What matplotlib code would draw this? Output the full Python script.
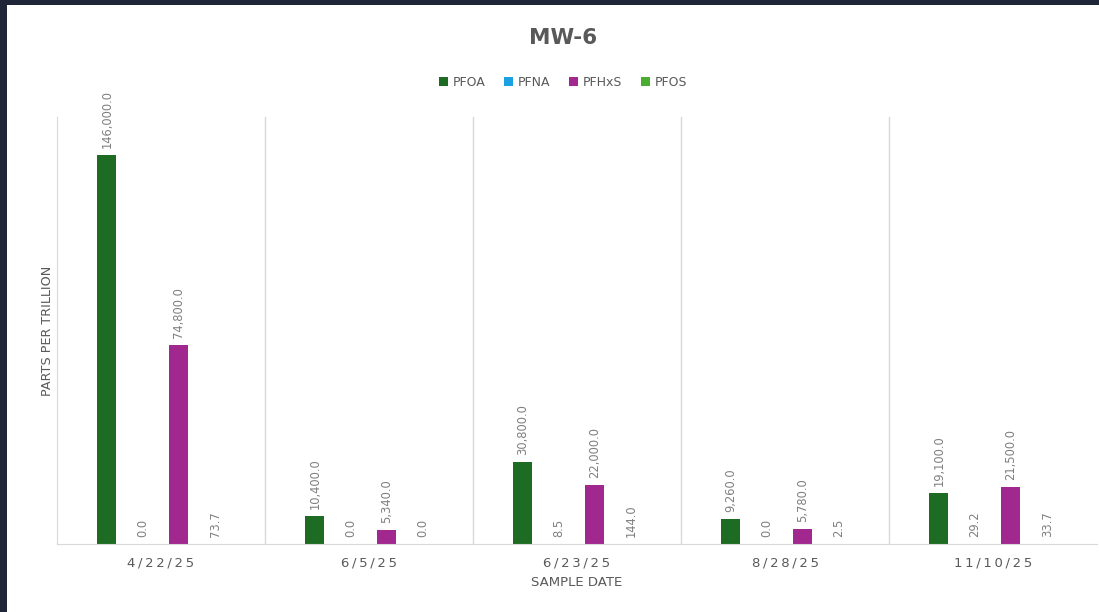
import numpy as np
import matplotlib.pyplot as plt
from matplotlib.patches import Rectangle

dates = ['4/22/25', '6/5/25', '6/23/25', '8/28/25', '11/10/25']
series = ['PFOA', 'PFNA', 'PFHxS', 'PFOS']
pfoa = [146000, 10400, 30800, 9260, 19100]
pfna = [0, 0, 8.5, 0, 29.2]
pfhxs = [74800, 5340, 22000, 5780, 21500]
pfos = [73.7, 0, 144, 2.5, 33.7]
colors = ['#1e6b24', '#1ba1e2', '#a0288f', '#4aad32']

W, H = 1099, 612
fig = plt.figure(figsize=(W / 100, H / 100), dpi=100)
fig.patch.set_facecolor('#1f2637')
# white chart area inside the dark frame
fig.patches.append(Rectangle((7 / W, 0), 1 - 7 / W, 1 - 5 / H,
                             transform=fig.transFigure, facecolor='white',
                             edgecolor='none', zorder=-5))

ax = fig.add_axes([57 / W, (H - 544) / H, 1040 / W, 427 / H])
ax.set_facecolor('none')
ax.set_zorder(2)

x = np.arange(len(dates))
offsets = [-0.26, -0.086, 0.086, 0.26]
width = 0.092
grey = '#595959'

for vals, off, col, name in zip([pfoa, pfna, pfhxs, pfos], offsets, colors, series):
    bars = ax.bar(x + off, vals, width, color=col, label=name, zorder=2)
    for b, v in zip(bars, vals):
        ax.annotate(f'{v:,.1f}', (b.get_x() + b.get_width() / 2, b.get_height()),
                    xytext=(0, 5), textcoords='offset points', rotation=90,
                    ha='center', va='bottom', fontsize=8.3, color='#7f7f7f')

ax.set_xlim(-0.5, len(dates) - 0.5)
ax.set_ylim(0, 160300)
ax.set_yticks([])
ax.set_xticks(x)
# spaced out like the original tick text
ax.set_xticklabels(['\u2009'.join(d) for d in dates], fontsize=9.5, color=grey)
ax.tick_params(axis='x', length=0, pad=9)

for b in np.arange(0.5, len(dates) - 0.5):
    ax.axvline(b, color='#d9d9d9', linewidth=1, zorder=1)
for side in ['top', 'right']:
    ax.spines[side].set_visible(False)
ax.spines['left'].set_color('#d9d9d9')
ax.spines['bottom'].set_color('#d9d9d9')

ax.set_xlabel('SAMPLE DATE', fontsize=9.5, color=grey, labelpad=5)
ax.set_ylabel('PARTS PER TRILLION', fontsize=9.2, color=grey, labelpad=2)

fig.text(563 / W, 1 - 38 / H, 'MW-6', ha='center', va='center',
         fontsize=15.5, fontweight='bold', color=grey)
fig.legend(loc='center', bbox_to_anchor=(563 / W, 1 - 82 / H), ncol=4,
           frameon=False, fontsize=9, labelcolor=grey, handlelength=0.7,
           handleheight=0.7, handletextpad=0.4, columnspacing=1.5)

plt.savefig('out.png', dpi=100)
